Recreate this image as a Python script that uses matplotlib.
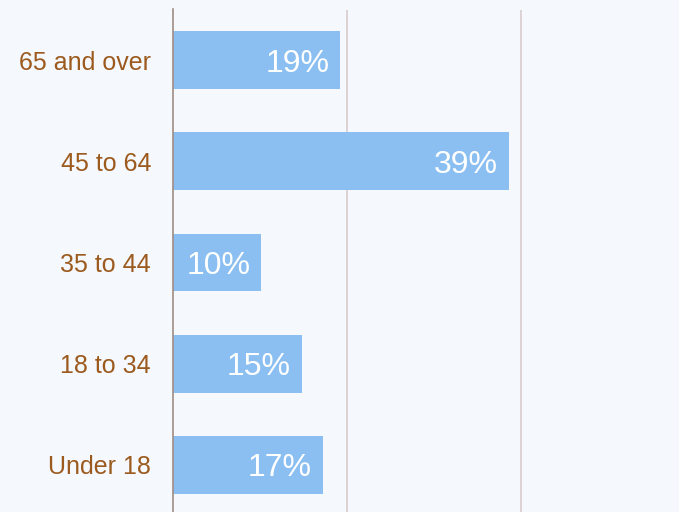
#!/usr/bin/env python3
"""Age distribution horizontal bar chart"""

import matplotlib
matplotlib.use('Agg')
import matplotlib.pyplot as plt
import numpy as np

plt.rcParams['font.family'] = ['Liberation Sans', 'DejaVu Sans']

# Data (top to bottom as shown)
categories = ['65 and over', '45 to 64', '35 to 44', '18 to 34', 'Under 18']
shares = [19.2, 38.6, 10.1, 14.8, 17.2]
grid_ticks = [0, 20, 40]

bg = '#f5f8fd'
bar_color = '#8bbff1'
label_color = '#9c5a1e'

fig = plt.figure(figsize=(6.79, 5.12), dpi=100)
fig.patch.set_facecolor(bg)

# axes box placed to match the original crop (extends past bottom/right edges)
ax = fig.add_axes([173.3 / 679, -3.5 / 512, 1 - 173.3 / 679, 506 / 512])
ax.set_facecolor(bg)

y = np.arange(len(categories))[::-1]
bars = ax.barh(y, shares, height=0.57, color=bar_color, zorder=2)

ax.set_xlim(0, (679 - 173.3) / 8.69)
ax.set_ylim(-0.5, len(categories) - 0.5)

for gx in grid_ticks[1:]:
    ax.axvline(gx, color='#d9cccc', linewidth=1.2, zorder=1)

# value labels inside bar ends
for bar, v in zip(bars, shares):
    ax.text(bar.get_width() - 1.25, bar.get_y() + bar.get_height() / 2,
            f'{v:.0f}%', ha='right', va='center_baseline', color='white',
            fontsize=23, zorder=3)

ax.set_yticks(y)
ax.set_yticklabels(categories, fontsize=18, color=label_color)
ax.tick_params(axis='y', length=0, pad=16)
ax.set_xticks([])

for side in ['top', 'right', 'bottom']:
    ax.spines[side].set_visible(False)
ax.spines['left'].set_color('#a08c84')
ax.spines['left'].set_linewidth(1.2)

plt.savefig('out.png', dpi=100, facecolor=bg)
plt.close()
